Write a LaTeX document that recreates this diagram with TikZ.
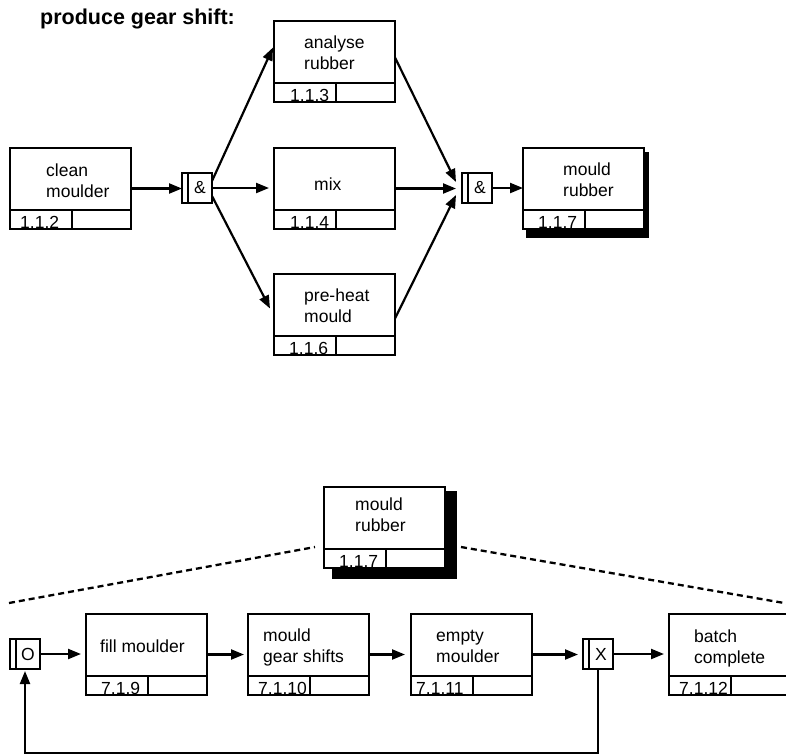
\documentclass[tikz,border=0pt]{standalone}
\usepackage{fontspec}
\setmainfont{Liberation Sans}
\usetikzlibrary{arrows.meta,backgrounds}
\tikzset{
 pbox/.style={draw, line width=2.3pt, fill=white, rectangle, minimum width=121pt, minimum height=81pt, inner sep=0pt, outer sep=0pt, anchor=north west},
 gate/.style={draw, line width=2pt, fill=white, rectangle, minimum width=30pt, minimum height=30pt, inner sep=0pt, outer sep=0pt, anchor=north west, font=\fontsize{17.5}{21}\selectfont},
 ptext/.style={anchor=base west, align=left, inner sep=0pt, font=\fontsize{17.5}{21}\selectfont},
 ntext/.style={anchor=base west, inner sep=0pt, font=\fontsize{17.5}{21}\selectfont},
 rulel/.style={line width=2.3pt},
 gline/.style={line width=1.8pt},
 arr/.style={line width=2.2pt, -{Triangle[length=13pt,width=10pt]}},
 zoomline/.style={line width=2.3pt, dash pattern=on 6pt off 4pt},
 shadowfill/.style={fill=black},
 titletext/.style={anchor=base west, inner sep=0pt, font=\fontsize{21.5}{25}\selectfont\bfseries},
}
% name, x, y, text, text dx, text baseline dy (last line), number, number dx
\newcommand\pboxdraw[8]{%
  \node[pbox] (#1) at (#2,#3) {};
  \draw[rulel] ([yshift=19pt]#1.south west) -- ([yshift=19pt]#1.south east)
     ([xshift=62pt]#1.south west) -- ([xshift=62pt,yshift=19pt]#1.south west);
  \node[ptext] (#1-t) at ([shift={(#5,#6)}]#1.north west) {#4};
  \node[ntext] (#1-n) at ([shift={(#8,-1)}]#1.south west) {#7};
}
% name, x, y, symbol
\newcommand\gatedraw[4]{%
  \node[gate] (#1) at (#2,#3) {\hspace*{6pt}#4};
  \draw[gline] ([xshift=6pt]#1.north west) -- ([xshift=6pt]#1.south west);
}
\begin{document}
\begin{tikzpicture}[x=1pt,y=-1pt]
\useasboundingbox (0,0) rectangle (786,755);
\clip (0,0) rectangle (786,755);

\node[titletext] (title) at (40,24) {produce gear shift:};

% top diagram
\pboxdraw{clean}{10}{148}{clean\\moulder}{36}{49}{1.1.2}{10}
\pboxdraw{an}{274}{21}{analyse\\rubber}{30}{48}{1.1.3}{16}
\pboxdraw{mix}{274}{148}{mix}{40}{42}{1.1.4}{16}
\pboxdraw{ph}{274}{274}{pre-heat\\mould}{30}{48}{1.1.6}{15}
\pboxdraw{mra}{523}{148}{mould\\rubber}{40}{48}{1.1.7}{15}
\gatedraw{ga}{182}{173}{\&}
\gatedraw{gb}{462}{173}{\&}

\begin{scope}[on background layer]
  \fill[shadowfill] ([shift={(3,4)}]mra.north west) rectangle ([shift={(5,9)}]mra.south east);
\end{scope}

\draw[arr] (clean.east) -- (clean.east -| ga.west);
\draw[arr] ([yshift=7pt]ga.east) -- ([shift={(-1,-14)}]an.west);
\draw[arr, shorten >=5pt] (ga.east) -- (ga.east -| mix.west);
\draw[arr] ([yshift=-8pt]ga.east) -- ([shift={(-4,-6)}]ph.west);
\draw[arr] ([yshift=4pt]an.east) -- ([shift={(-6,-6)}]gb.west);
\draw[arr, shorten >=6pt] (mix.east) -- (mix.east -| gb.west);
\draw[arr] ([yshift=-4pt]ph.east) -- ([shift={(-6,7)}]gb.west);
\draw[arr] (gb.east) -- (gb.east -| mra.west);

% bottom diagram
\pboxdraw{mrb}{324}{487}{mould\\rubber}{31}{44}{1.1.7}{15}
\begin{scope}[on background layer]
  \fill[shadowfill] ([shift={(8,4)}]mrb.north west) rectangle ([shift={(12,11)}]mrb.south east);
\end{scope}
\coordinate (dl) at (9,603);
\coordinate (dr) at (790,604);
\draw[zoomline] (dl) -- ([shift={(-9,60)}]mrb.north west);
\draw[zoomline] ([shift={(16,60)}]mrb.north east) -- (dr);

\gatedraw{go}{10}{639}{O}
\pboxdraw{fill}{86}{614}{fill moulder}{14}{38}{7.1.9}{15}
\pboxdraw{gear}{248}{614}{mould\\gear shifts}{15}{48}{7.1.10}{10}
\pboxdraw{empty}{411}{614}{empty\\moulder}{25}{48}{7.1.11}{5}
\gatedraw{gx}{583}{639}{X}
\pboxdraw{batch}{669}{614}{batch\\complete}{25}{49}{7.1.12}{10}

\draw[arr, shorten >=5pt] (go.east) -- (go.east -| fill.west);
\draw[arr, shorten >=4pt] (fill.east) -- (fill.east -| gear.west);
\draw[arr, shorten >=6pt] (gear.east) -- (gear.east -| empty.west);
\draw[arr, shorten >=5pt] (empty.east) -- (empty.east -| gx.west);
\draw[arr, shorten >=5pt] (gx.east) -- (gx.east -| batch.west);
\draw[arr, shorten >=2pt] (gx.south) -- ++(0,84) -| (go.south);
\end{tikzpicture}
\end{document}
